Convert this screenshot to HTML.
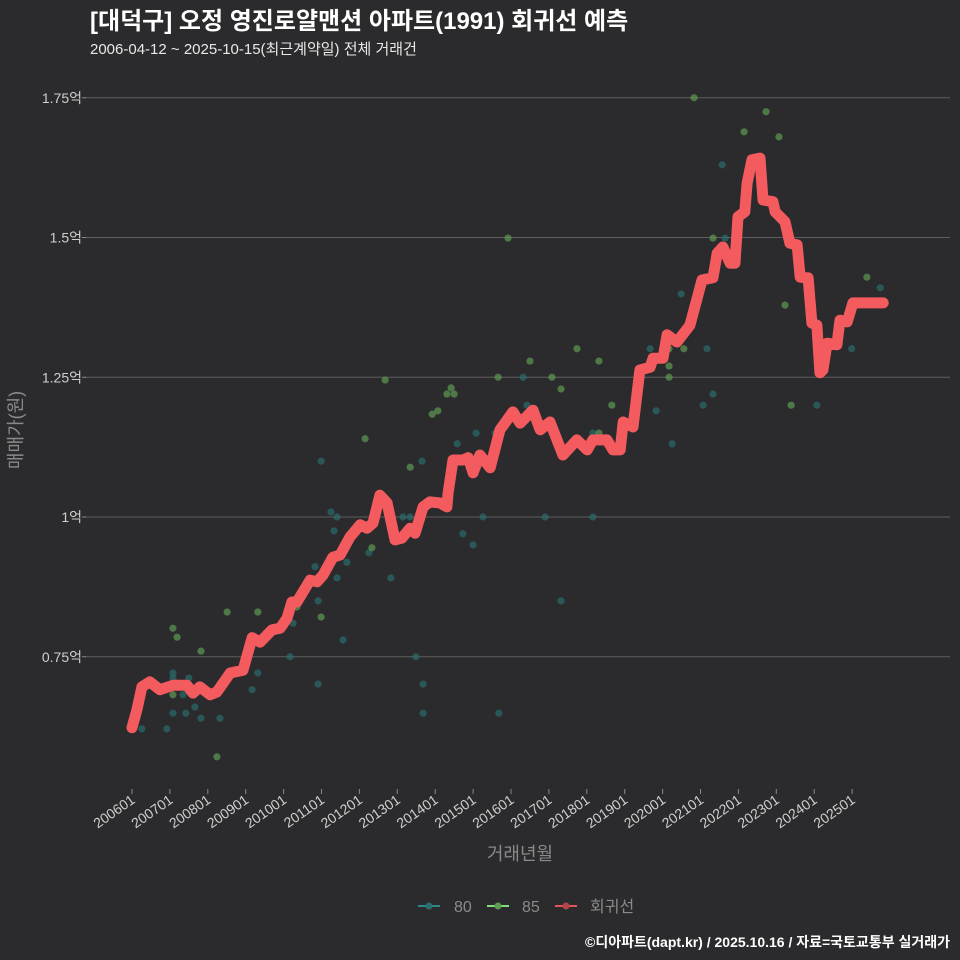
<!DOCTYPE html>
<html><head><meta charset="utf-8">
<style>
html,body{margin:0;padding:0;background:#2b2b2d;}
svg{display:block;font-family:"Liberation Sans","Noto Sans CJK KR",sans-serif;}
</style></head>
<body>
<svg id="chart" width="960" height="960" viewBox="0 0 960 960" xmlns="http://www.w3.org/2000/svg">
<rect width="960" height="960" fill="#2b2b2d"/>
<text x="90" y="29" fill="#ffffff" font-size="24" font-weight="bold">[대덕구] 오정 영진로얄맨션 아파트(1991) 회귀선 예측</text>
<text x="90" y="54" fill="#e8e8e8" font-size="15">2006-04-12 ~ 2025-10-15(최근계약일) 전체 거래건</text>
<g id="grid"></g>
<g id="yaxis"></g>
<g id="xaxis"></g>
<g id="pts80"></g>
<g id="pts85"></g>
<g id="reg"></g>
<text transform="translate(22,430) rotate(-90)" text-anchor="middle" fill="#8a8a8a" font-size="18">매매가(원)</text>
<text x="520" y="860" text-anchor="middle" fill="#8a8a8a" font-size="18">거래년월</text>
<g>
<g>
<line x1="418" y1="906" x2="440" y2="906" stroke="#2a8a8a" stroke-width="2"/><circle cx="429" cy="906" r="3.5" fill="#2a6f70"/>
<text x="454" y="912" fill="#8a8a8a" font-size="16">80</text></g>
<g>
<line x1="487" y1="906" x2="509" y2="906" stroke="#7ee07a" stroke-width="2"/><circle cx="498" cy="906" r="3.5" fill="#5f9a52"/>
<text x="522" y="912" fill="#8a8a8a" font-size="16">85</text></g>
<g>
<line x1="555" y1="906" x2="577" y2="906" stroke="#e0555a" stroke-width="2"/><circle cx="566" cy="906" r="3.5" fill="#b04548"/>
<text x="590" y="912" fill="#8a8a8a" font-size="16">회귀선</text></g>
</g>
<text x="950" y="947" text-anchor="end" fill="#ffffff" font-size="14" font-weight="bold">©디아파트(dapt.kr) / 2025.10.16 / 자료=국토교통부 실거래가</text>
</svg>
<script>
const yTicks = [0.75, 1, 1.25, 1.5, 1.75];
const yTickLabels = ["0.75억", "1억", "1.25억", "1.5억", "1.75억"];
const xTickYears = [2006,2007,2008,2009,2010,2011,2012,2013,2014,2015,2016,2017,2018,2019,2020,2021,2022,2023,2024,2025];
const xTickLabels = ["200601","200701","200801","200901","201001","201101","201201","201301","201401","201501","201601","201701","201801","201901","202001","202101","202201","202301","202401","202501"];
const t80 = [2006.26,2006.92,2007.08,2007.08,2007.08,2007.35,2007.42,2007.50,2007.66,2007.82,2008.32,2009.17,2009.32,2010.17,2010.25,2010.91,2010.91,2010.83,2010.99,2011.25,2011.41,2011.33,2011.41,2011.57,2011.67,2012.25,2012.83,2013.15,2013.34,2013.49,2013.68,2013.68,2013.65,2014.58,2014.73,2015.00,2015.08,2015.26,2015.68,2016.32,2016.42,2015.58,2016.90,2017.32,2018.16,2018.16,2019.83,2019.67,2020.25,2020.49,2021.17,2021.07,2021.33,2021.65,2021.57,2024.07,2024.99,2025.74];
const v80 = [0.621,0.621,0.721,0.712,0.649,0.682,0.649,0.712,0.660,0.640,0.640,0.691,0.721,0.750,0.810,0.701,0.850,0.911,1.100,1.009,1.000,0.975,0.891,0.780,0.919,0.936,0.891,1.000,1.000,0.750,0.701,0.649,1.100,1.131,0.970,0.950,1.150,1.000,0.649,1.250,1.200,1.150,1.000,0.850,1.150,1.000,1.190,1.301,1.131,1.399,1.301,1.200,1.220,1.499,1.630,1.200,1.301,1.410];
const t85 = [2007.08,2007.08,2007.19,2007.82,2008.24,2008.51,2009.32,2010.35,2010.99,2012.15,2012.33,2012.68,2013.34,2013.92,2014.07,2014.31,2014.50,2014.42,2015.92,2015.66,2016.50,2017.08,2017.32,2017.74,2018.32,2018.66,2018.32,2020.17,2020.17,2020.17,2020.56,2021.33,2020.83,2022.15,2022.73,2023.07,2023.23,2023.39,2025.39];
const v85 = [0.682,0.801,0.785,0.760,0.571,0.830,0.830,0.839,0.821,1.140,0.945,1.245,1.089,1.184,1.190,1.220,1.220,1.231,1.499,1.250,1.279,1.250,1.229,1.301,1.279,1.200,1.150,1.301,1.270,1.250,1.301,1.499,1.750,1.689,1.725,1.680,1.379,1.200,1.429];
const tReg = [2006.0,2006.13,2006.26,2006.47,2006.74,2007.08,2007.45,2007.61,2007.79,2008.06,2008.24,2008.59,2008.93,2009.17,2009.38,2009.69,2009.91,2010.09,2010.22,2010.35,2010.70,2010.88,2011.04,2011.30,2011.49,2011.75,2012.02,2012.20,2012.36,2012.54,2012.73,2012.94,2013.12,2013.34,2013.47,2013.68,2013.86,2014.13,2014.31,2014.34,2014.47,2014.73,2014.87,2015.00,2015.18,2015.45,2015.71,2016.05,2016.24,2016.58,2016.77,2017.03,2017.37,2017.74,2018.01,2018.16,2018.53,2018.69,2018.88,2018.96,2019.22,2019.40,2019.67,2019.75,2020.01,2020.12,2020.38,2020.72,2021.04,2021.33,2021.44,2021.59,2021.78,2021.91,2021.99,2022.17,2022.23,2022.36,2022.57,2022.65,2022.91,2022.97,2023.23,2023.36,2023.55,2023.63,2023.84,2023.94,2024.07,2024.15,2024.23,2024.34,2024.60,2024.68,2024.87,2025.02,2025.82];
const vReg = [0.623,0.655,0.696,0.705,0.691,0.699,0.699,0.685,0.696,0.682,0.687,0.721,0.726,0.784,0.776,0.798,0.801,0.819,0.848,0.848,0.887,0.884,0.896,0.928,0.932,0.964,0.986,0.980,0.989,1.039,1.025,0.959,0.962,0.980,0.971,1.018,1.027,1.025,1.018,1.043,1.102,1.102,1.106,1.079,1.111,1.088,1.156,1.188,1.168,1.191,1.156,1.170,1.111,1.138,1.120,1.138,1.138,1.120,1.120,1.170,1.161,1.263,1.268,1.284,1.284,1.326,1.313,1.343,1.424,1.428,1.472,1.483,1.454,1.454,1.537,1.546,1.597,1.639,1.642,1.567,1.564,1.546,1.528,1.490,1.487,1.429,1.428,1.347,1.343,1.258,1.263,1.311,1.308,1.352,1.349,1.383,1.383];

const NS = "http://www.w3.org/2000/svg";
function xS(t){ return 132 + (t - 2006) * 37.9; }
function yS(v){ return 517 - (v - 1) * 559; }
function mk(tag, attrs, parent){ const e = document.createElementNS(NS, tag); for (const k in attrs) e.setAttribute(k, attrs[k]); parent.appendChild(e); return e; }

const grid = document.getElementById('grid');
const yaxis = document.getElementById('yaxis');
yTicks.forEach((v, i) => {
  const ln = mk('line', {x1: 85, x2: 950, y1: yS(v), y2: yS(v), stroke: '#5e5e5e', 'stroke-width': 1}, grid);
  
  
  const tk = mk('line', {x1: 82, x2: 86, y1: yS(v), y2: yS(v), stroke: '#8a8a8a', 'stroke-width': 1}, yaxis);
  
  
  const tx = mk('text', {x: 82, y: yS(v) + 5, 'text-anchor': 'end', fill: '#cfcfcf', 'font-size': 14}, yaxis);
  tx.textContent = yTickLabels[i];
  
  
});
const xaxis = document.getElementById('xaxis');
xTickYears.forEach((t, i) => {
  const x = xS(t);
  const tk = mk('line', {x1: x, x2: x, y1: 789, y2: 794, stroke: '#8a8a8a', 'stroke-width': 1}, xaxis);
  
  
  const tx = mk('text', {x: x + 4, y: 802, 'text-anchor': 'end', fill: '#cfcfcf', 'font-size': 14, transform: 'rotate(-35 ' + (x + 4) + ' 802)'}, xaxis);
  tx.textContent = xTickLabels[i];
  
  
});
const g80 = document.getElementById('pts80');
t80.forEach((t, i) => {
  const c = mk('circle', {cx: xS(t), cy: yS(v80[i]), r: 3.6, fill: '#2a6f70', 'fill-opacity': 0.65}, g80);
  
  
});
const g85 = document.getElementById('pts85');
t85.forEach((t, i) => {
  const c = mk('circle', {cx: xS(t), cy: yS(v85[i]), r: 3.6, fill: '#5f9a52', 'fill-opacity': 0.7}, g85);
  
  
});
const reg = document.getElementById('reg');
const d = tReg.map((t, i) => (i ? 'L' : 'M') + xS(t).toFixed(1) + ',' + yS(vReg[i]).toFixed(1)).join(' ');
const p = mk('path', {d: d, fill: 'none', stroke: '#f45b5f', 'stroke-width': 11, 'stroke-linejoin': 'round', 'stroke-linecap': 'round'}, reg);


</script>
</body></html>
